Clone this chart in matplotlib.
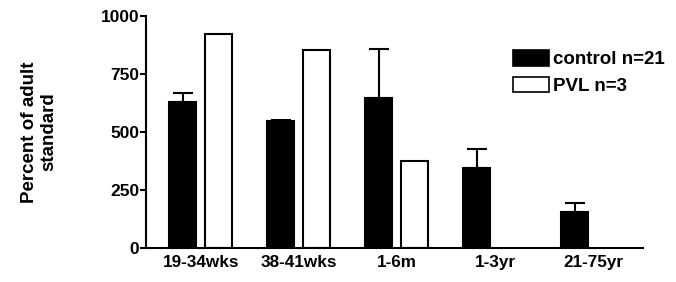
import numpy as np
import matplotlib.pyplot as plt
from matplotlib.patches import Patch

plt.rcParams['font.family'] = ['Liberation Sans', 'DejaVu Sans']
plt.rcParams['font.weight'] = 'bold'

groups = ['19-34wks', '38-41wks', '1-6m', '1-3yr', '21-75yr']
control = [629, 547, 647, 345, 155]
control_err = [39, 4, 211, 82, 39]
pvl = [922, 853, 375, np.nan, np.nan]

fig = plt.figure(figsize=(6.76, 2.82), dpi=100)
ax = fig.add_axes([0.216, 0.121, 0.735, 0.822])

x = np.arange(len(groups))
w = 0.275
off = 0.184
ax.bar(x - off, control, w, color='black', edgecolor='black', linewidth=1.5,
       yerr=[np.zeros(len(control)), control_err],
       error_kw=dict(ecolor='black', elinewidth=1.5, capsize=7, capthick=1.5))
ax.bar(x + off, pvl, w, color='white', edgecolor='black', linewidth=1.5)

ax.set_xlim(-0.56, 4.51)
ax.set_ylim(0, 1000)
ax.set_yticks([0, 250, 500, 750, 1000])
ax.set_xticks(x)
ax.set_xticklabels(groups, fontsize=12.3, fontweight='bold')
ax.tick_params(axis='x', length=0, pad=5)
ax.tick_params(axis='y', labelsize=12.5, width=1.5, length=4, pad=1)
for lab in ax.get_yticklabels():
    lab.set_fontweight('bold')
ax.spines['top'].set_visible(False)
ax.spines['right'].set_visible(False)
ax.spines['left'].set_linewidth(1.5)
ax.spines['bottom'].set_linewidth(1.5)

ax.set_ylabel('Percent of adult\nstandard', fontsize=13.5, fontweight='bold', labelpad=31)

handles = [Patch(facecolor='black', edgecolor='black', linewidth=1.2, label='control n=21'),
           Patch(facecolor='white', edgecolor='black', linewidth=1.2, label='PVL n=3')]
ax.legend(handles=handles, loc='upper left', bbox_to_anchor=(0.724, 0.885), frameon=False,
          prop=dict(size=13.5, weight='bold'), handlelength=1.9, handleheight=0.9,
          handletextpad=0.2, labelspacing=0.45, borderaxespad=0)

fig.savefig('out.png', dpi=100)
